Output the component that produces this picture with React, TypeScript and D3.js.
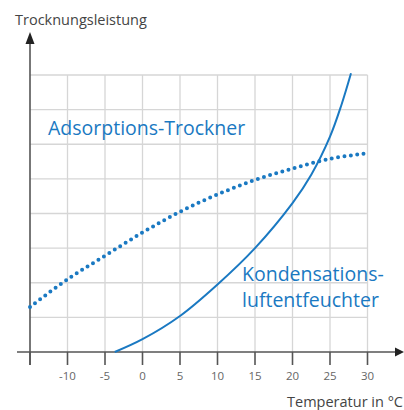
import React from "react";
import * as d3 from "d3";

// x ticks (°C)
const xTicks = [-15, -10, -5, 0, 5, 10, 15, 20, 25, 30];
const xLabels = ["-10", "-5", "0", "5", "10", "15", "20", "25", "30"];
const yGrid = [1, 2, 3, 4, 5, 6, 7, 8];

// Kondensations-luftentfeuchter (solid)
const kondTemp = [-3.7, 0, 5, 10, 15, 20, 22.5, 25, 26.5, 27.8];
const kondValue = [0, 0.37, 1.04, 1.95, 3.0, 4.3, 5.12, 6.22, 7.12, 8.05];

// Adsorptions-Trockner (dotted)
const adsTemp = [-15, -10, -5, 0, 5, 10, 15, 20, 25, 30];
const adsValue = [1.3, 2.1, 2.78, 3.45, 4.05, 4.55, 4.97, 5.3, 5.58, 5.74];

const BLUE = "#1a79c2";
const AXIS = "#555";
const GRID = "#d6d6d6";
const FONT = "'Open Sans', sans-serif";

export default function App() {
  const x = d3.scaleLinear().domain([-15, 30]).range([30, 367.5]);
  const y = d3.scaleLinear().domain([0, 8]).range([352, 75]);

  const line = d3
    .line<[number, number]>()
    .x((d) => x(d[0]))
    .y((d) => y(d[1]))
    .curve(d3.curveCatmullRom.alpha(0.5));

  const kond = kondTemp.map((t, i) => [t, kondValue[i]] as [number, number]);
  const ads = adsTemp.map((t, i) => [t, adsValue[i]] as [number, number]);

  return (
    <svg
      width={404}
      height={410}
      style={{ position: "absolute", left: 0, top: 0 }}
      fontFamily={FONT}
    >
      <rect width={404} height={410} fill="#fff" />
      {/* grid */}
      {xTicks.slice(1).map((t) => (
        <line key={"gx" + t} x1={x(t)} x2={x(t)} y1={y(8)} y2={y(0)} stroke={GRID} strokeWidth={1.3} />
      ))}
      {yGrid.map((v) => (
        <line key={"gy" + v} x1={x(-15)} x2={x(30)} y1={y(v)} y2={y(v)} stroke={GRID} strokeWidth={1.3} />
      ))}

      {/* axes */}
      <line x1={17} x2={398} y1={y(0)} y2={y(0)} stroke={AXIS} strokeWidth={1.6} />
      <path d={`M404,${y(0)} L395,${y(0) - 4.5} L395,${y(0) + 4.5} Z`} fill="#222" />
      <line x1={x(-15)} x2={x(-15)} y1={365} y2={40} stroke={AXIS} strokeWidth={1.6} />
      <path d={`M${x(-15)},32 L${x(-15) - 4.5},44 L${x(-15) + 4.5},44 Z`} fill="#222" />
      {xTicks.map((t) => (
        <line key={"t" + t} x1={x(t)} x2={x(t)} y1={y(0)} y2={365} stroke={AXIS} strokeWidth={1.6} />
      ))}
      {xLabels.map((l, i) => (
        <text key={"l" + l} x={x(xTicks[i + 1])} y={380} textAnchor="middle" fontSize={11.5} fill="#666">
          {l}
        </text>
      ))}
      <text x={15} y={25} fontSize={14.5} fill="#444">Trocknungsleistung</text>
      <text x={403} y={407} textAnchor="end" fontSize={14.5} fill="#444">Temperatur in °C</text>

      {/* curves */}
      <path d={line(ads) || ""} fill="none" stroke={BLUE} strokeWidth={4} strokeLinecap="round" strokeDasharray="0 6.4" />
      <path d={line(kond) || ""} fill="none" stroke={BLUE} strokeWidth={2} />

      {/* labels */}
      <text x={48} y={135} fontSize={19.5} fill={BLUE}>Adsorptions-Trockner</text>
      <text x={242} y={281} fontSize={19.5} fill={BLUE}>Kondensations-</text>
      <text x={242} y={307} fontSize={19.5} fill={BLUE}>luftentfeuchter</text>
    </svg>
  );
}
